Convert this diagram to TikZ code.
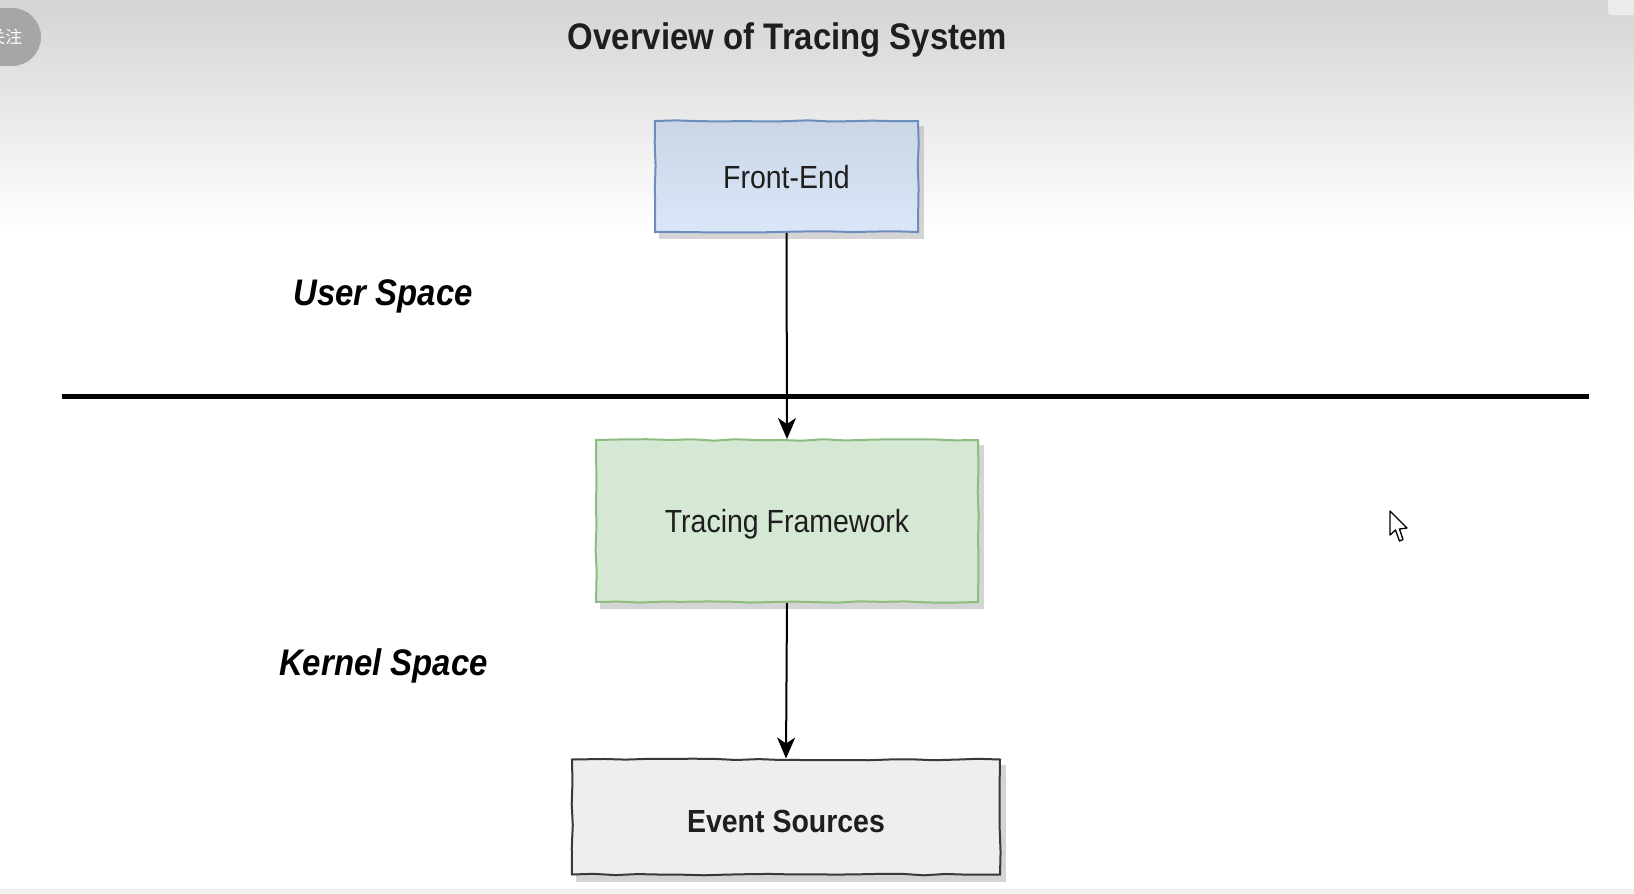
\documentclass[tikz,border=0pt]{standalone}
\usepackage{fontspec}
\setmainfont{Liberation Sans}[FakeStretch=0.89]
\newfontfamily\cjk{Noto Sans CJK SC}
\usetikzlibrary{decorations.pathmorphing,arrows.meta}
\definecolor{bgtop}{HTML}{D4D4D4}
\definecolor{feStroke}{HTML}{6C8EBF}
\definecolor{feTop}{HTML}{CAD6E6}
\definecolor{feBot}{HTML}{DAE7F8}
\definecolor{tfStroke}{HTML}{8DBD7E}
\definecolor{tfFill}{HTML}{D5E8D4}
\definecolor{esStroke}{HTML}{36393D}
\definecolor{esFill}{HTML}{EEEEEE}
\definecolor{pill}{HTML}{A6A6A6}
\definecolor{txt}{HTML}{1E1E1E}
\pgfdeclarelayer{bg}
\pgfdeclarelayer{shadowlayer}
\pgfsetlayers{bg,shadowlayer,main}
\tikzset{
  boxbase/.style={draw, line width=2pt, inner sep=0pt, text depth=0pt,
    text=txt, font=\fontsize{32}{38}\selectfont,
    decorate, decoration={random steps, segment length=22pt, amplitude=0.8pt}},
  lbl/.style={anchor=base, font=\fontsize{37}{44}\selectfont\bfseries\itshape, text=black},
  arr/.style={line width=2pt, -{Stealth[length=21pt,width=18pt,inset=6pt]}},
  shadowfill/.style={fill=black!30, opacity=0.55},
}
\begin{document}
\begin{tikzpicture}[x=1pt,y=-1pt]
\pgfmathsetseed{11}
\useasboundingbox (0,0) rectangle (1634,894);
\begin{pgfonlayer}{bg}
  \fill[white] (0,0) rectangle (1634,894);
  \shade[top color=bgtop, bottom color=white] (0,0) rectangle (1634,232);
  \fill[black!5] (0,889) rectangle (1634,894);
  % overlay widgets
  \fill[pill] (-30,8) rectangle (12,66);
  \fill[pill] (12,37) circle (29);
  \fill[black!8, rounded corners=3pt] (1608,-5) rectangle (1640,15);
\end{pgfonlayer}
\node[anchor=east, text=white, font=\cjk\fontsize{17}{20}\selectfont] (follow) at (26,37) {关注};

\node[anchor=base, font=\fontsize{37}{44}\selectfont\bfseries, text=txt] (title) at (787.5,49) {Overview of Tracing System};

\node[boxbase, draw=feStroke, top color=feTop, bottom color=feBot,
      minimum width=263pt, minimum height=111pt] (fe) at (786.5,176.5) {Front-End};
\node[boxbase, draw=tfStroke, fill=tfFill,
      minimum width=382pt, minimum height=162pt] (tf) at (787,521) {Tracing Framework};
\node[boxbase, draw=esStroke, fill=esFill, font=\fontsize{32}{38}\selectfont\bfseries,
      text height=30pt, minimum width=428pt, minimum height=115pt] (es) at (786,817) {Event Sources};

\begin{pgfonlayer}{shadowlayer}
  \fill[shadowfill] ([shift={(5,6)}]fe.north west) rectangle ([shift={(5,6)}]fe.south east);
  \fill[shadowfill] ([shift={(5,6)}]tf.north west) rectangle ([shift={(5,6)}]tf.south east);
  \fill[shadowfill] ([shift={(5,6)}]es.north west) rectangle ([shift={(5,6)}]es.south east);
\end{pgfonlayer}

\node[lbl] (us) at (383,305) {User Space};
\node[lbl] (ks) at (383.5,675) {Kernel Space};

\coordinate (divL) at (62,396);
\coordinate (divR) at (1589,396);
\draw[line width=5pt] (divL) -- (divR);

\draw[arr] (fe.south) -- (tf.north);
\draw[arr] (tf.south) -- (es.north);

% mouse cursor
\coordinate (cur) at (1390,511);
\draw[fill=white, line width=1.3pt, line join=round, shift={(cur)}]
  (0,0) -- (0,24) -- (5.5,19) -- (9.5,30) -- (13,28.5) -- (9.5,18) -- (17,17) -- cycle;
\end{tikzpicture}
\end{document}
